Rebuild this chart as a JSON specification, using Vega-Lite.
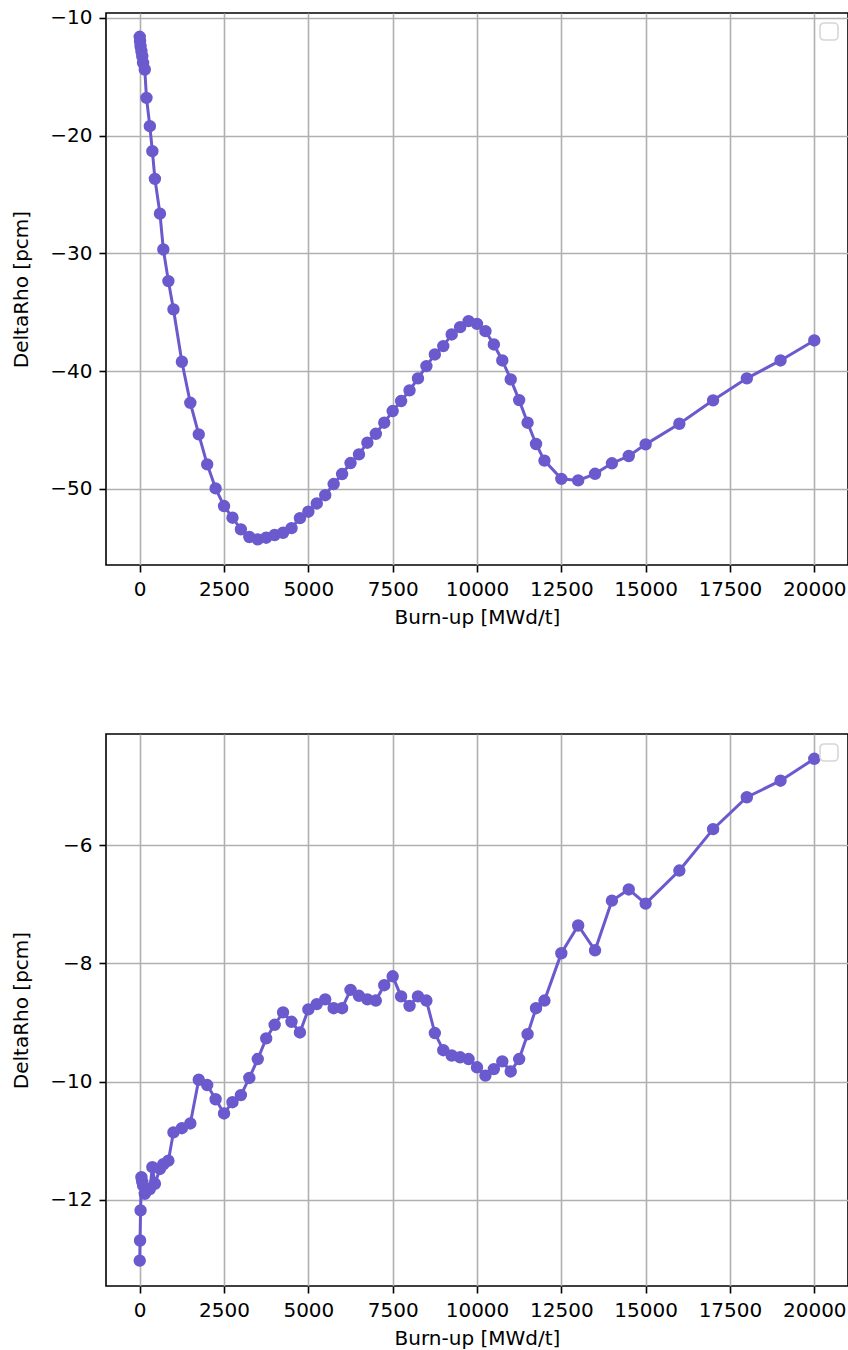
{
  "$schema": "https://vega.github.io/schema/vega-lite/v6.json",
  "padding": {"left": 10, "top": 7, "right": 0, "bottom": 0},
  "autosize": {"type": "pad"},
  "bounds": "flush",
  "spacing": 169,
  "resolve": {"scale": {"color": "independent"}, "legend": {"color": "independent"}},
  "data": {"values": [
    {"x": 0, "top": -11.6, "bottom": -13.03},
    {"x": 10, "top": -11.98, "bottom": -12.69},
    {"x": 25, "top": -12.4, "bottom": -12.18},
    {"x": 50, "top": -12.83, "bottom": -11.62},
    {"x": 75, "top": -13.25, "bottom": -11.7},
    {"x": 100, "top": -13.82, "bottom": -11.76},
    {"x": 150, "top": -14.38, "bottom": -11.9},
    {"x": 200, "top": -16.79, "bottom": -11.85},
    {"x": 300, "top": -19.2, "bottom": -11.82},
    {"x": 375, "top": -21.32, "bottom": -11.45},
    {"x": 450, "top": -23.67, "bottom": -11.73},
    {"x": 600, "top": -26.63, "bottom": -11.48},
    {"x": 700, "top": -29.67, "bottom": -11.4},
    {"x": 850, "top": -32.36, "bottom": -11.34},
    {"x": 1000, "top": -34.76, "bottom": -10.86},
    {"x": 1250, "top": -39.21, "bottom": -10.79},
    {"x": 1500, "top": -42.7, "bottom": -10.71},
    {"x": 1750, "top": -45.38, "bottom": -9.97},
    {"x": 2000, "top": -47.93, "bottom": -10.06},
    {"x": 2250, "top": -49.97, "bottom": -10.3},
    {"x": 2500, "top": -51.47, "bottom": -10.54},
    {"x": 2750, "top": -52.46, "bottom": -10.35},
    {"x": 3000, "top": -53.45, "bottom": -10.23},
    {"x": 3250, "top": -54.1, "bottom": -9.94},
    {"x": 3500, "top": -54.3, "bottom": -9.62},
    {"x": 3750, "top": -54.16, "bottom": -9.27},
    {"x": 4000, "top": -53.93, "bottom": -9.04},
    {"x": 4250, "top": -53.74, "bottom": -8.83},
    {"x": 4500, "top": -53.35, "bottom": -8.99},
    {"x": 4750, "top": -52.5, "bottom": -9.17},
    {"x": 5000, "top": -51.95, "bottom": -8.78},
    {"x": 5250, "top": -51.25, "bottom": -8.69},
    {"x": 5500, "top": -50.55, "bottom": -8.61},
    {"x": 5750, "top": -49.6, "bottom": -8.76},
    {"x": 6000, "top": -48.75, "bottom": -8.76},
    {"x": 6250, "top": -47.82, "bottom": -8.45},
    {"x": 6500, "top": -47.08, "bottom": -8.55},
    {"x": 6750, "top": -46.09, "bottom": -8.61},
    {"x": 7000, "top": -45.33, "bottom": -8.63},
    {"x": 7250, "top": -44.39, "bottom": -8.37},
    {"x": 7500, "top": -43.4, "bottom": -8.22},
    {"x": 7750, "top": -42.55, "bottom": -8.56},
    {"x": 8000, "top": -41.64, "bottom": -8.72},
    {"x": 8250, "top": -40.62, "bottom": -8.56},
    {"x": 8500, "top": -39.58, "bottom": -8.63},
    {"x": 8750, "top": -38.59, "bottom": -9.18},
    {"x": 9000, "top": -37.88, "bottom": -9.47},
    {"x": 9250, "top": -36.89, "bottom": -9.56},
    {"x": 9500, "top": -36.27, "bottom": -9.59},
    {"x": 9750, "top": -35.76, "bottom": -9.62},
    {"x": 10000, "top": -35.99, "bottom": -9.76},
    {"x": 10250, "top": -36.61, "bottom": -9.9},
    {"x": 10500, "top": -37.74, "bottom": -9.79},
    {"x": 10750, "top": -39.1, "bottom": -9.66},
    {"x": 11000, "top": -40.71, "bottom": -9.83},
    {"x": 11250, "top": -42.47, "bottom": -9.62},
    {"x": 11500, "top": -44.39, "bottom": -9.2},
    {"x": 11750, "top": -46.2, "bottom": -8.76},
    {"x": 12000, "top": -47.61, "bottom": -8.63},
    {"x": 12500, "top": -49.16, "bottom": -7.83},
    {"x": 13000, "top": -49.29, "bottom": -7.36},
    {"x": 13500, "top": -48.73, "bottom": -7.78},
    {"x": 14000, "top": -47.84, "bottom": -6.94},
    {"x": 14500, "top": -47.22, "bottom": -6.75},
    {"x": 15000, "top": -46.23, "bottom": -6.99},
    {"x": 16000, "top": -44.48, "bottom": -6.43},
    {"x": 17000, "top": -42.49, "bottom": -5.73},
    {"x": 18000, "top": -40.62, "bottom": -5.19},
    {"x": 19000, "top": -39.1, "bottom": -4.91},
    {"x": 20000, "top": -37.4, "bottom": -4.54}
  ]},
  "config": {
    "font": "DejaVu Sans",
    "view": {"stroke": "black", "strokeWidth": 1.6},
    "axis": {
      "domain": false,
      "grid": true,
      "gridColor": "#b0b0b0",
      "gridWidth": 1.6,
      "tickColor": "black",
      "tickWidth": 1.6,
      "tickSize": 7,
      "labelPadding": 7,
      "labelFont": "DejaVu Sans",
      "labelFontSize": 20,
      "labelColor": "black",
      "labelFlush": false,
      "titleFont": "DejaVu Sans",
      "titleFontSize": 20,
      "titleFontWeight": "normal",
      "titleColor": "black"
    },
    "axisX": {"titlePadding": 8},
    "axisY": {"titlePadding": 18},
    "legend": {
      "orient": "top-right",
      "offset": 10,
      "title": null,
      "padding": 8,
      "strokeColor": "#d6d6d6",
      "strokeWidth": 1.6,
      "fillColor": "white",
      "cornerRadius": 4,
      "symbolSize": 1,
      "symbolOpacity": 0,
      "symbolStrokeWidth": 0,
      "labelOffset": 0,
      "labelFontSize": 1,
      "labelExpr": "''",
      "rowPadding": 0
    }
  },
  "vconcat": [
    {
      "width": 742,
      "height": 552,
      "mark": {"type": "line", "strokeWidth": 3, "point": {"filled": true, "size": 154, "opacity": 1}},
      "encoding": {
        "x": {"field": "x", "type": "quantitative", "scale": {"domain": [-1000, 21000], "nice": false, "zero": false}, "axis": {"values": [0, 2500, 5000, 7500, 10000, 12500, 15000, 17500, 20000], "format": "d", "title": "Burn-up [MWd/t]"}},
        "y": {"field": "top", "type": "quantitative", "scale": {"domain": [-56.48, -9.58], "nice": false, "zero": false}, "axis": {"values": [-50, -40, -30, -20, -10], "format": "d", "title": "DeltaRho [pcm]"}},
        "color": {"datum": "s", "type": "nominal", "scale": {"range": ["#6a5acd"]}, "legend": {"title": null}}
      }
    },
    {
      "width": 742,
      "height": 552,
      "mark": {"type": "line", "strokeWidth": 3, "point": {"filled": true, "size": 154, "opacity": 1}},
      "encoding": {
        "x": {"field": "x", "type": "quantitative", "scale": {"domain": [-1000, 21000], "nice": false, "zero": false}, "axis": {"values": [0, 2500, 5000, 7500, 10000, 12500, 15000, 17500, 20000], "format": "d", "title": "Burn-up [MWd/t]"}},
        "y": {"field": "bottom", "type": "quantitative", "scale": {"domain": [-13.46, -4.12], "nice": false, "zero": false}, "axis": {"values": [-12, -10, -8, -6], "format": "d", "title": "DeltaRho [pcm]"}},
        "color": {"datum": "s", "type": "nominal", "scale": {"range": ["#6a5acd"]}, "legend": {"title": null}}
      }
    }
  ]
}
